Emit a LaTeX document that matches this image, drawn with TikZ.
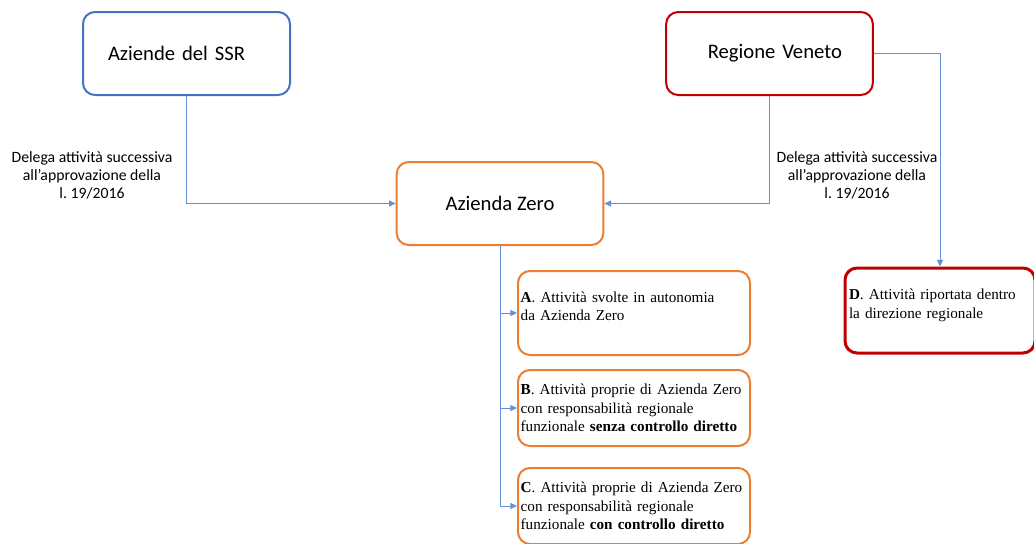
\documentclass[tikz,border=0pt]{standalone}
\usepackage{fontspec}
\setmainfont{Liberation Serif}
\newfontfamily\calibri{Carlito}
\usetikzlibrary{arrows.meta}

\definecolor{ssrblue}{RGB}{68,114,196}
\definecolor{venred}{RGB}{192,0,0}
\definecolor{azorange}{RGB}{237,125,49}
\definecolor{linkblue}{RGB}{100,145,220}

\begin{document}
\frenchspacing
\begin{tikzpicture}[x=0.75pt,y=0.75pt,yscale=-1,xscale=1,
  mainbox/.style={draw, rounded corners=9pt, line width=1.5pt, minimum width=155pt, minimum height=62.25pt, font=\calibri\fontsize{15.5}{19}\selectfont},
  subbox/.style={draw=azorange, rounded corners=9pt, line width=1.5pt, text width=170pt, inner xsep=2pt, align=left, font=\fontsize{11.4}{14}\selectfont},
  note/.style={align=center, inner sep=0.75pt, font=\calibri\fontsize{11.8}{13.5}\selectfont},
  link/.style={draw=linkblue, line width=0.75pt, -{Triangle[length=5pt,width=4.5pt]}}]
\useasboundingbox (0,0) rectangle (1034,543);

%Rounded Rect
\draw (186.5,53.5) node [mainbox, draw=ssrblue, text width=117.75pt, inner xsep=18.75pt, align=left] (ssr) {Aziende del SSR};
%Rounded Rect
\draw (769.5,53.5) node [mainbox, draw=venred, text width=130pt, inner xsep=12.5pt, align=center] (ven) {\hspace*{8pt}Regione Veneto};
%Rounded Rect
\draw (500,203.5) node [mainbox, draw=azorange] (az) {Azienda Zero};

%Rounded Rect
\draw (634,313) node [subbox, minimum height=63pt] (a) {\textbf{A}. Attività svolte in autonomia\\da Azienda Zero\\[-4pt]\mbox{}};
%Rounded Rect
\draw (634,408) node [subbox, minimum height=57pt] (b) {\textbf{B}. Attività proprie di Azienda Zero\\con responsabilità regionale\\funzionale \textbf{senza controllo diretto}};
%Rounded Rect
\draw (634,506) node [subbox, minimum height=57pt] (c) {\textbf{C}. Attività proprie di Azienda Zero\\con responsabilità regionale\\funzionale \textbf{con controllo diretto}};
%Rounded Rect
\draw (940,310.5) node [subbox, draw=venred, line width=2.25pt, text width=136.5pt, inner xsep=3pt, minimum height=63.75pt] (d) {\textbf{D}. Attività riportata dentro\\la direzione regionale\\[-4pt]\mbox{}};

% Text Node
\draw (92,175) node [note] (lblssr) {Delega attività successiva\\all’approvazione della\\l. 19/2016};
% Text Node
\draw (857,175) node [note] (lblven) {Delega attività successiva\\all’approvazione della\\l. 19/2016};

%Connectors
\draw [link] (ssr.south) |- (az.west);
\draw [link] (ven.south) |- (az.east);
\draw [link] (ven.east) -| (d.north);
\draw [link] (az.south) |- (a.west);
\draw [link] (az.south) |- (b.west);
\draw [link] (az.south) |- (c.west);

\end{tikzpicture}
\end{document}
